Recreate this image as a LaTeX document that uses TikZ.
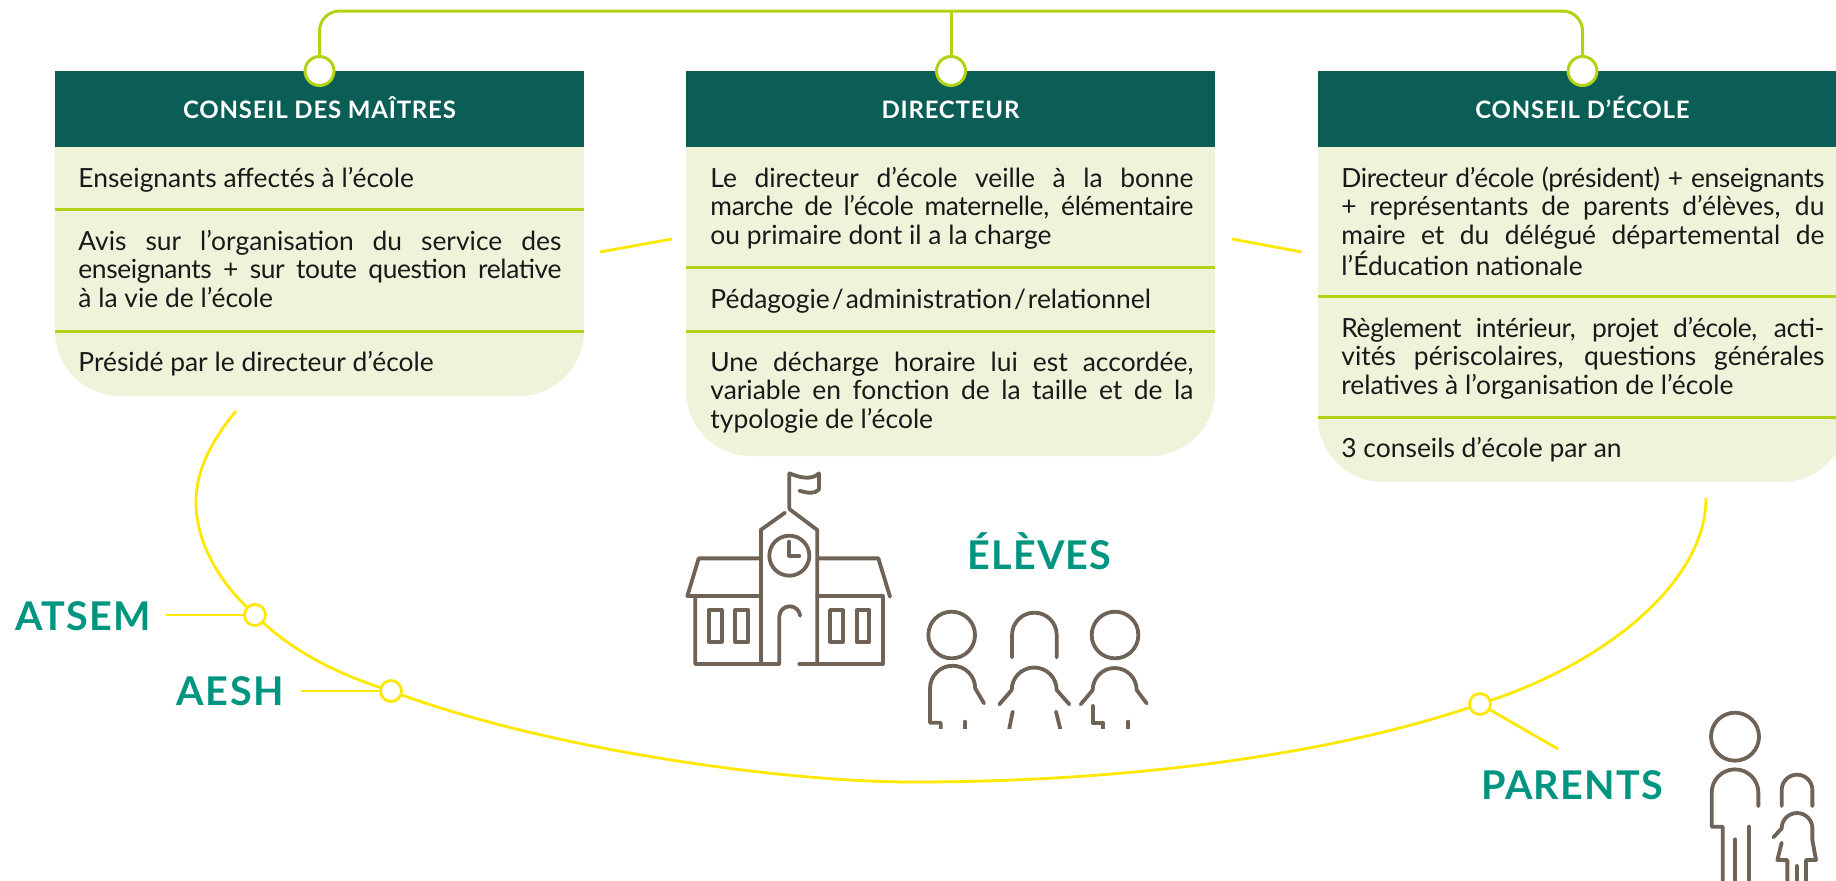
\documentclass[tikz,border=0pt]{standalone}
\usepackage{fontspec}
\setmainfont{Lato}
\newcommand{\serre}[1]{{\addfontfeature{LetterSpace=-1.5}#1}}
\begin{document}
\begin{tikzpicture}[x=0.5pt,y=-0.5pt,
  entete/.style={fill=sapin,text=white,font=\bfseries\fontsize{12}{14}\selectfont\addfontfeature{LetterSpace=3.3},minimum width=264.5pt,minimum height=38pt,inner sep=0pt,text height=9.6pt,text depth=0pt},
  texte/.style={anchor=base west,text width=241.5pt,align=justify,inner sep=0pt,text=black!90,font=\fontsize{13.2}{14.4}\selectfont},
  titre/.style={anchor=base west,inner sep=0pt,text=turquoise,font=\bfseries\fontsize{19.8}{22}\selectfont\addfontfeature{LetterSpace=3}},
  pastille/.style={circle,draw=anis,line width=1.5pt,fill=white,inner sep=0pt,minimum size=14.5pt},
  bouton/.style={circle,draw=citron,line width=1.4pt,fill=white,inner sep=0pt,minimum size=10.5pt},
  filet/.style={anis,line width=1.5pt},
  lien/.style={citron,line width=1.4pt},
  trait/.style={taupe,line width=1.9pt,line cap=round,line join=round}]
\definecolor{sapin}{rgb}{0.043,0.369,0.337}
\definecolor{tilleul}{rgb}{0.937,0.953,0.855}
\definecolor{anis}{rgb}{0.694,0.824,0.082}
\definecolor{citron}{rgb}{1,0.91,0}
\definecolor{turquoise}{rgb}{0,0.584,0.502}
\definecolor{taupe}{rgb}{0.435,0.384,0.337}
\clip (0,0) rectangle (1836,880);
% fonds
\fill [tilleul] (55,140) [rounded corners=32.5pt] -- (55,396) -- (584,396) [sharp corners] -- (584,140) -- cycle;
\fill [tilleul] (686,140) [rounded corners=32.5pt] -- (686,456) -- (1215,456) [sharp corners] -- (1215,140) -- cycle;
\fill [tilleul] (1318,140) [rounded corners=32.5pt] -- (1318,482) -- (1847,482) [sharp corners] -- (1847,140) -- cycle;
% entetes
\node [entete] (maitres) at (319.5,109) {CONSEIL DES MAÎTRES};
\node [entete] (directeur) at (950.5,109) {DIRECTEUR};
\node [entete] (ecole) at (1582.5,109) {CONSEIL D’ÉCOLE};
% filets
\draw [filet] (55,209)-- (584,209);
\draw [filet] (55,331)-- (584,331);
\draw [filet] (686,267)-- (1215,267);
\draw [filet] (686,331)-- (1215,331);
\draw [filet] (1318,296)-- (1847,296);
\draw [filet] (1318,417)-- (1847,417);
% textes
\node [texte] (m1) at (78,187) {Enseignants affectés à l’école};
\node [texte] (m2) at (78,250) {Avis sur l’organisation du service des\linebreak \serre{enseignants + sur toute question relative}\linebreak à la vie de l’école};
\node [texte] (m3) at (78,371) {Présidé par le directeur d’école};
\node [texte] (d1) at (710,187) {Le directeur d’école veille à la bonne\linebreak \serre{marche de l’école maternelle, élémentaire}\linebreak ou primaire dont il a la charge};
\node [texte] (d2) at (710,308) {Pédagogie\kern1pt/\kern1pt administration\kern1pt/\kern1pt relationnel};
\node [texte] (d3) at (710,371) {Une décharge horaire lui est accordée,\linebreak variable en fonction de la taille et de la\linebreak typologie de l’école};
\node [texte] (e1) at (1341,187) {\serre{Directeur d’école (président) + enseignants}\linebreak + représentants de parents d’élèves, du\linebreak maire et du délégué départemental de\linebreak l’Éducation nationale};
\node [texte] (e2) at (1341,337) {\serre{Règlement intérieur, projet d’école, acti-}\linebreak vités périscolaires, questions générales\linebreak relatives à l’organisation de l’école};
\node [texte] (e3) at (1341,457) {3 conseils d’école par an};
% liaisons du haut
\coordinate (sommet) at (951,11);
\node [pastille] (pm) at (319.5,71) {};
\node [pastille] (pd) at (951,71) {};
\node [pastille] (pe) at (1582.5,71) {};
\draw [filet,rounded corners=10pt] (pm.north) |- (sommet) -| (pe.north);
\draw [filet] (pd.north)-- (sommet);
% traits entre les cadres
\coordinate (t1) at (600,252);
\coordinate (t2) at (672,239);
\coordinate (t3) at (1232,239);
\coordinate (t4) at (1302,252);
\draw [lien] (t1)-- (t2);
\draw [lien] (t3)-- (t4);
% grande courbe
\coordinate (c0) at (236,411);
\coordinate (c1) at (1706,498);
\node [bouton] (ba) at (255,615) {};
\node [bouton] (bs) at (391,691) {};
\node [bouton] (bp) at (1480,704) {};
\draw [lien] (c0) .. controls (212,440) and (196,470) .. (196,502) .. controls (196,545) and (222,583) .. (ba);
\draw [lien] (ba) .. controls (298,655) and (345,676) .. (bs);
\draw [lien] (bs) .. controls (551,749) and (780,782) .. (913,782) .. controls (1130,782) and (1330,754) .. (bp);
\draw [lien] (bp) .. controls (1610,660) and (1706,580) .. (c1);
\coordinate (la) at (166,615);
\coordinate (ls) at (301,691);
\coordinate (lp) at (1558,749);
\draw [lien] (la)-- (ba);
\draw [lien] (ls)-- (bs);
\draw [lien] (bp)-- (lp);
% titres
\node [titre] (atsem) at (15,630) {ATSEM};
\node [titre] (aesh) at (176,705.7) {\addfontfeature{LetterSpace=4.5}AESH};
\node [titre] (parents) at (1481,799) {PARENTS};
\node [titre] (eleves) at (967,569) {ÉLÈVES};
% ecole
\begin{scope}[shift={(660,440)},x=0.16667pt,y=-0.16667pt]
\draw [trait] (388,205)-- (388,100) .. controls (410,108) and (450,125) .. (477,100)-- (477,148) .. controls (465,162) and (445,160) .. (418,152);
\draw [trait] (302,270)-- (375,218);
\draw [trait] (388,207)-- (472,270)-- (472,672);
\draw [trait] (302,270)-- (302,672);
\draw [trait] (388,347) circle [radius=60];
\draw [trait] (388,305)-- (388,348)-- (418,348);
\draw [trait] (302,355)-- (116,355)-- (82,468)-- (302,468);
\draw [trait] (472,355)-- (655,355)-- (690,470);
\draw [trait] (472,468)-- (668,468)-- (668,672)-- (418,672);
\draw [trait] (106,470)-- (106,672)-- (358,672)-- (358,530) arc [start angle=180,end angle=5,radius=5.2pt];
\draw [trait] (146,510) rectangle (185,605);
\draw [trait] (226,510) rectangle (265,605);
\draw [trait] (510,510) rectangle (548,605);
\draw [trait] (590,510) rectangle (628,605);
\end{scope}
% enfants
\begin{scope}[shift={(660,440)},x=0.16667pt,y=-0.16667pt]
\clip (780,500) rectangle (1500,865);
\draw [trait] (875,585) circle [radius=70];
\draw [trait] (842,880)-- (842,848)-- (810,848)-- (810,745) arc [start angle=180,end angle=0,radius=11.3pt]-- (972,790);
\draw [trait] (915,845)-- (915,880);
\draw [trait] (1056,652)-- (1056,585) arc [start angle=180,end angle=0,radius=11.17pt]-- (1190,652);
\draw [trait] (1018,793)-- (1055,750) arc [start angle=180,end angle=0,radius=11.25pt]-- (1228,793);
\draw [trait] (1058,815)-- (1045,880);
\draw [trait] (1188,815)-- (1204,880);
\draw [trait] (1365,585) circle [radius=70];
\draw [trait] (1262,793)-- (1298,750) arc [start angle=180,end angle=0,radius=11pt]-- (1460,790);
\draw [trait] (1298,798)-- (1298,848)-- (1328,848)-- (1328,880);
\draw [trait] (1405,845)-- (1405,880);
\end{scope}
% parents
\begin{scope}[shift={(1440,660)},x=0.16667pt,y=-0.16667pt]
\draw [trait] (885,230) circle [radius=72];
\draw [trait] (955,438)-- (955,398) arc [start angle=0,end angle=180,radius=11.67pt]-- (815,500)-- (848,500)-- (848,680);
\draw [trait] (885,538)-- (885,680);
\draw [trait] (927,500)-- (927,680);
\draw [trait] (1025,438)-- (1025,390) arc [start angle=180,end angle=0,radius=7.67pt]-- (1117,438);
\draw [trait] (1000,532)-- (1025,505) arc [start angle=180,end angle=0,radius=7.67pt]-- (1117,540)-- (1128,600)-- (1098,600)-- (1098,680);
\draw [trait] (1025,548)-- (1012,600)-- (1042,600)-- (1042,680);
\draw [trait] (1070,618)-- (1070,680);
\end{scope}
\end{tikzpicture}
\end{document}
